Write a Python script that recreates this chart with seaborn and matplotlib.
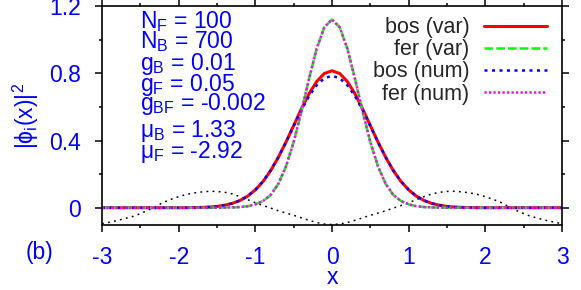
import numpy as np
import pandas as pd
import matplotlib
matplotlib.use("Agg")
import matplotlib.pyplot as plt
from matplotlib.ticker import MultipleLocator
import seaborn as sns

sns.set_theme(style="ticks")
plt.rcParams['font.family'] = ['Liberation Sans', 'DejaVu Sans']
plt.rcParams['mathtext.fontset'] = 'custom'
plt.rcParams['mathtext.rm'] = 'Liberation Sans'

# profiles, x = 0.0, 0.1, ..., 3.0 (curves are symmetric)
x_half = [round(0.1 * k, 1) for k in range(31)]
bos_var_half = [0.815, 0.799, 0.751, 0.678, 0.588, 0.489, 0.391, 0.300, 0.221, 0.156,
                0.106, 0.069, 0.043, 0.026, 0.015, 0.008, 0.004, 0.002, 0.001, 0.0,
                0.0, 0.0, 0.0, 0.0, 0.0, 0.0, 0.0, 0.0, 0.0, 0.0, 0.0]
bos_num_half = [0.785, 0.771, 0.729, 0.664, 0.580, 0.486, 0.391, 0.301, 0.222, 0.157,
                0.107, 0.069, 0.043, 0.026, 0.015, 0.008, 0.004, 0.002, 0.001, 0.0,
                0.0, 0.0, 0.0, 0.0, 0.0, 0.0, 0.0, 0.0, 0.0, 0.0, 0.0]
fer_var_half = [1.120, 1.074, 0.947, 0.767, 0.571, 0.391, 0.246, 0.142, 0.076, 0.040,
                0.020, 0.009, 0.004, 0.002, 0.001, 0.0, 0.0, 0.0, 0.0, 0.0,
                0.0, 0.0, 0.0, 0.0, 0.0, 0.0, 0.0, 0.0, 0.0, 0.0, 0.0]
fer_num_half = [1.120, 1.074, 0.947, 0.767, 0.571, 0.391, 0.246, 0.142, 0.076, 0.040,
                0.020, 0.009, 0.004, 0.002, 0.001, 0.0, 0.0, 0.0, 0.0, 0.0,
                0.0, 0.0, 0.0, 0.0, 0.0, 0.0, 0.0, 0.0, 0.0, 0.0, 0.0]
pot_half = [-0.100, -0.097, -0.088, -0.075, -0.060, -0.045, -0.032, -0.018, -0.002, 0.013,
            0.030, 0.048, 0.066, 0.082, 0.092, 0.097, 0.098, 0.094, 0.088, 0.079,
            0.066, 0.050, 0.032, 0.008, -0.015, -0.035, -0.052, -0.064, -0.076, -0.086, -0.095]

params = [r'N$_\mathregular{F}$ = 100', r'N$_\mathregular{B}$ = 700',
          r'g$_\mathregular{B}$ = 0.01', r'g$_\mathregular{F}$ = 0.05',
          r'g$_\mathregular{BF}$ = -0.002', r'μ$_\mathregular{B}$ = 1.33',
          r'μ$_\mathregular{F}$ = -2.92']
param_y = [1.070, 0.951, 0.820, 0.695, 0.582, 0.421, 0.296]


def mirror(v):
    return v[:0:-1] + v


xs = [-x for x in x_half[:0:-1]] + x_half
df = pd.DataFrame({'x': xs,
                   'bos_var': mirror(bos_var_half), 'fer_var': mirror(fer_var_half),
                   'bos_num': mirror(bos_num_half), 'fer_num': mirror(fer_num_half),
                   'pot': mirror(pot_half)})

FS = 16.5
fig = plt.figure(figsize=(5.81, 2.90), dpi=100)
ax = fig.add_axes([0.1756, 0.224, 0.7917, 0.755])

sns.lineplot(data=df, x='x', y='pot', ax=ax, color='black', lw=1.1,
             linestyle=(0, (1.2, 2.8)), sort=False)
sns.lineplot(data=df, x='x', y='bos_var', ax=ax, color='#ff0000', lw=2.2,
             label='bos (var)', sort=False)
sns.lineplot(data=df, x='x', y='fer_var', ax=ax, color='#00ff00', lw=1.8,
             linestyle=(0, (3.5, 1.2)), label='fer (var)', sort=False)
sns.lineplot(data=df, x='x', y='bos_num', ax=ax, color='#0000ff', lw=1.8,
             linestyle=(0, (1.2, 1.8)), label='bos (num)', sort=False)
sns.lineplot(data=df, x='x', y='fer_num', ax=ax, color='#ff00ff', lw=1.8,
             linestyle=(0, (0.9, 0.9)), label='fer (num)', sort=False)

ax.set_xlim(-3, 3)
ax.set_ylim(-0.103, 1.2)
ax.xaxis.set_major_locator(MultipleLocator(1))
ax.xaxis.set_minor_locator(MultipleLocator(0.5))
ax.yaxis.set_major_locator(MultipleLocator(0.4))
ax.yaxis.set_minor_locator(MultipleLocator(0.2))
ax.set_yticklabels(['0' if abs(t) < 1e-9 else f'{t:.1f}' for t in ax.get_yticks()])
ax.set_xticklabels([f'{t:.0f}' for t in ax.get_xticks()])
ax.tick_params(which='both', direction='out', top=True, right=True,
               colors='black', labelcolor='blue', labelsize=FS, width=1.1)
ax.tick_params(which='major', length=5, pad=10)
ax.tick_params(which='minor', length=2.5)
for s in ax.spines.values():
    s.set_visible(True)
    s.set_linewidth(1.2)
    s.set_color('black')

ax.set_xlabel('x', color='blue', fontsize=FS, labelpad=-2)
ax.set_ylabel(r'|ϕ$_\mathregular{i}$(x)|$^\mathregular{2}$', color='blue', fontsize=FS,
              labelpad=6)

for txt, yy in zip(params, param_y):
    ax.text(-2.5, yy, txt, color='blue', fontsize=FS, va='baseline', ha='left')

fig.text(0.068, 0.13, '(b)', color='blue', fontsize=FS, ha='center', va='center')

leg = ax.legend(loc='upper right', bbox_to_anchor=(0.987, 0.988), frameon=False,
                markerfirst=False, fontsize=15.5, handlelength=2.93,
                handletextpad=0.7, labelspacing=0.05, borderaxespad=0.0)

fig.savefig('out.png', dpi=100)
